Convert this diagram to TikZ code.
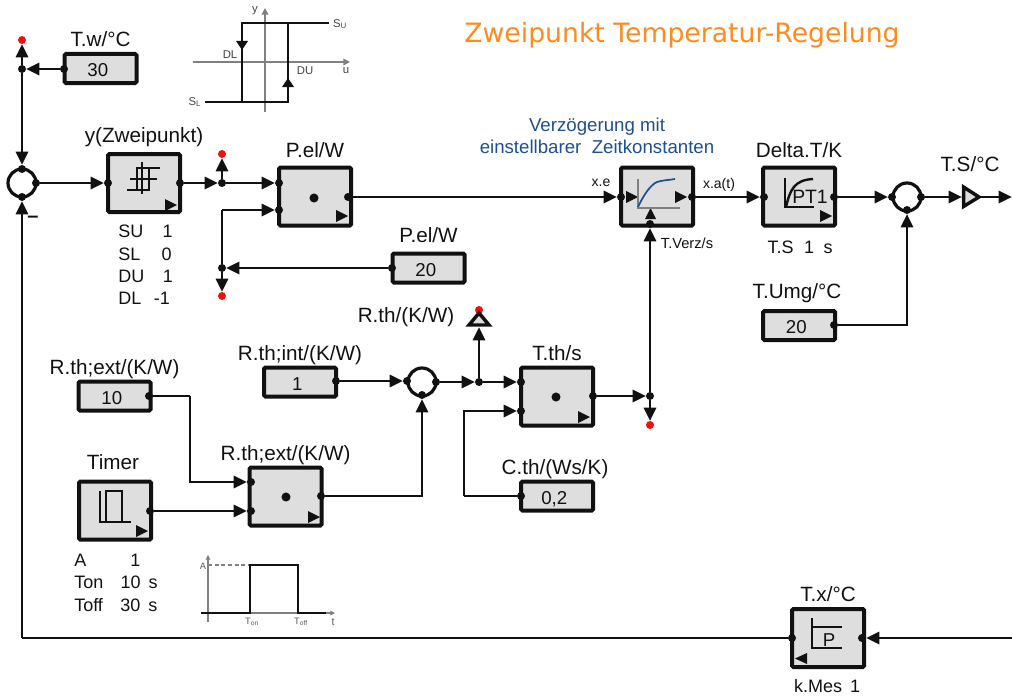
\documentclass[tikz,border=0pt]{standalone}
\usepackage{fontspec}
\setmainfont{Liberation Sans}
\newfontfamily\titlefont{DejaVu Sans}
\usetikzlibrary{arrows.meta,positioning,calc}
\definecolor{rgInk}{HTML}{111111}
\definecolor{rgFill}{HTML}{DEDEDE}
\definecolor{rgGrey}{HTML}{808080}
\definecolor{rgRed}{HTML}{F01010}
\definecolor{rgBlue}{HTML}{1F4F8F}
\definecolor{rgOrange}{HTML}{FF8A1E}
\tikzset{
  blockbox/.style={draw=rgInk, fill=rgFill, line width=3pt, rounded corners=1pt, minimum width=54pt, minimum height=43.5pt, inner sep=0pt},
  constbox/.style={blockbox, minimum height=21.75pt, font=\fontsize{14}{16}\selectfont, text=rgInk, text height=13pt, text depth=0.8pt, execute at end node={\kern4pt}},
  sumnode/.style={circle, draw=rgInk, fill=white, line width=2.4pt, minimum size=21pt, inner sep=0pt},
  pindot/.style={circle, fill=rgInk, minimum size=6pt, inner sep=0pt, outer sep=0pt},
  reddot/.style={circle, fill=rgRed, minimum size=6pt, inner sep=0pt, outer sep=0pt},
  toplbl/.style={font=\fontsize{15.5}{17}\selectfont, text=rgInk, inner sep=0pt, text height=11.2pt, text depth=3.4pt},
  parlbl/.style={font=\fontsize{13.5}{16.7}\selectfont, text=rgInk, inner sep=0pt, align=left},
  pinlbl/.style={font=\fontsize{10.5}{12}\selectfont, text=rgInk, inner sep=0pt},
  tinylbl/.style={font=\fontsize{8.5}{10}\selectfont, text=rgInk!80, inner sep=0pt},
  wire/.style={line width=2.2pt, draw=rgInk},
  arr/.style={wire, -{Triangle[length=10pt,width=9pt]}},
  thinarr/.style={line width=1pt, draw=rgGrey},
  icon/.style={line width=1.8pt, draw=rgInk},
  plotline/.style={line width=2pt, draw=rgInk},
}
\begin{document}
\begin{tikzpicture}[x=0.75pt, y=-0.75pt]
  \useasboundingbox (0,0) rectangle (1012,699);
  % blocks
  \node[constbox] (tw) at (100.5,68.5) {30};
  \node[blockbox] (ybox) at (144,183) {};
  \node[blockbox] (pel) at (315,196.5) {};
  \node[constbox] (pelc) at (428.5,268) {20};
  \node[blockbox] (verz) at (657,196.5) {};
  \node[blockbox] (delta) at (799,196.5) {};
  \node[constbox] (umg) at (799,325.5) {20};
  \node[constbox] (rint) at (300,382) {1};
  \node[constbox] (rext) at (114.5,396) {10};
  \node[blockbox] (timer) at (115,510.5) {};
  \node[blockbox] (mult) at (285.5,496.5) {};
  \node[blockbox] (tth) at (557,396.5) {};
  \node[constbox] (cth) at (557,496) {0,2};
  \node[blockbox] (tx) at (828,638) {};
  \node[sumnode] (suma) at (22,183) {};
  \node[sumnode] (sumb) at (907,197) {};
  \node[sumnode] (sumc) at (422,382) {};
  % block titles
  \node[toplbl, above=0.5pt of tw] (twl) {T.w/°C};
  \node[toplbl, above=3.5pt of ybox] (yboxl) {y(Zweipunkt)};
  \node[toplbl, above=2.7pt of pel] (pell) {P.el/W};
  \node[toplbl, above=3.5pt of pelc] (pelcl) {P.el/W};
  \node[toplbl, above=2.7pt of delta] (deltal) {Delta.T/K};
  \node[toplbl, above=4pt of umg, xshift=-1.5pt] (umgl) {T.Umg/°C};
  \node[toplbl, above=0.5pt of rint] (rintl) {R.th;int/(K/W)};
  \node[toplbl, above=0pt of rext] (rextl) {R.th;ext/(K/W)};
  \node[toplbl, above=4pt of timer, xshift=-1.5pt] (timerl) {Timer};
  \node[toplbl, above=0.5pt of mult] (multl) {R.th;ext/(K/W)};
  \node[toplbl, above=0.5pt of tth] (tthl) {T.th/s};
  \node[toplbl, above=0pt of cth, xshift=-1.5pt] (cthl) {C.th/(Ws/K)};
  \node[toplbl, above=0.5pt of tx] (txl) {T.x/°C};
  \node[toplbl] (tsl) at (970,166) {T.S/°C};
  \node[toplbl] (rthl) at (406,317) {R.th/(K/W)};
  % pins and junctions
  \foreach \n/\px/\py in {twp/64/69, ja/22/69, sat/22/169, sab/22/197, sae/36/183,
      yw/108/183, ye/180/183, jb/222/183, pela/279/183, pelb/279/210, pele/348/197,
      jc/222/268, pelcp/392/268, verzw/621/197, verze/692/197, verzs/650/224,
      deltaw/764/197, deltae/834/197, sbw/892/197, sbe/921/197, sbs/907/210, umgp/834/325,
      rintp/336/381, scw/407/381, sce/436/382, scs/422/395, jd/479/382,
      ttha/521/382, tthb/521/411, tthe/593/396, je/650/396, cthp/521/496,
      rextp/149/396, multa/251/482, multb/251/511, multe/321/496, timerp/150/511,
      txw/792/638, txe/862/638}
    \node[pindot] (\n) at (\px,\py) {};
  \foreach \n/\px/\py in {ra/22/40, rb/222/154, rc/222/296, rd/479/310, re/650/425}
    \node[reddot] (\n) at (\px,\py) {};
  % triangles on the outputs
  \coordinate (tsin) at (962,197);
  \coordinate (tsout) at (981,197);
  \coordinate (rthin) at (479,327);
  \coordinate (outr) at (1012,197);
  \coordinate (inr) at (1012,638);
  \coordinate (bendr) at (190,396);
  \coordinate (bendc) at (464,496);
  \coordinate (bendp) at (222,210);
  \coordinate (bendm) at (22,638);
  % connectors
  \foreach \u/\v in {twp/ja, ja/ra, ja/sat, sae/yw, ye/jb, jb/pela, jb/rb, pelcp/jc, jc/rc,
      pele/verzw, verze/deltaw, deltae/sbw, sbe/tsin, tsout/outr, rintp/scw,
      sce/jd, jd/ttha, jd/rthin, tthe/je, je/re, je/verzs, timerp/multb, inr/txe}
    \draw[arr] (\u) -- (\v);
  \draw[arr] (umgp) -| (sbs);
  \draw[arr] (multe) -| (scs);
  \draw[wire] (jc) -- (bendp);
  \draw[arr] (bendp) -- (pelb);
  \draw[wire] (cthp) -- (bendc);
  \draw[arr] (bendc) |- (tthb);
  \draw[wire] (rextp) -- (bendr);
  \draw[arr] (bendr) |- (multa);
  \draw[wire] (txw) -- (bendm);
  \draw[arr] (bendm) -- (sab);
  \node[font=\bfseries\fontsize{15}{15}\selectfont, text=rgInk, inner sep=0pt] (minus) at (33,219) {–};
  % output triangles
  \fill[rgFill, draw=rgInk, line width=2.6pt, line join=miter] (963.5,187) -- (979,197) -- (963.5,206.5) -- cycle;
  \fill[rgFill, draw=rgInk, line width=2.6pt, line join=miter] (479,313) -- (489,325) -- (469,325) -- cycle;
  % small run triangles in the blocks
  \foreach \cx/\cy in {165/199, 336/210, 578/411, 820/210, 136/525, 308/511}
    \fill[rgInk] (\cx,\cy) -- ++(12,6) -- ++(-12,6) -- cycle;
  \foreach \cx/\cy in {626/191, 675/191}
    \fill[rgInk] (\cx,\cy) -- ++(12,6) -- ++(-12,6) -- cycle;
  \fill[rgInk] (645,219) -- ++(5.5,-11) -- ++(5.5,11) -- cycle;
  \fill[rgInk] (807,653) -- ++(-12,5.5) -- ++(12,5.5) -- cycle;
  \foreach \cx/\cy in {314/198, 556/397, 286/497}
    \fill[rgInk] (\cx,\cy) circle (3.4pt);
  % block icons
  \draw[icon] (127,190) -- (149,190) -- (149,168) -- (160,168);
  \draw[icon] (160,168) -- (137,168) -- (137,190);
  \draw[line width=0.9pt, rgInk] (142,162) -- (142,194) (130,179) -- (157,179);
  \draw[line width=1pt, rgGrey] (638,179) -- (638,208) -- (680,208);
  \draw[line width=1.3pt, rgBlue] (638,207) .. controls (645,192) and (652,184) .. (657,182) .. controls (663,180) and (670,180) .. (675,179);
  \draw[icon] (785,178) -- (785,207) -- (814,207);
  \draw[icon] (786,207) .. controls (790,190) and (794,180) .. (813,179);
  \node[font=\fontsize{14.5}{16}\selectfont, text=rgInk, inner sep=0pt] (ptone) at (810,197) {PT1};
  \draw[icon] (100,491) -- (100,522) -- (131,522);
  \draw[icon] (106,522) -- (106,491) -- (122,491) -- (122,522);
  \draw[icon, line width=1.3pt] (812,618) -- (812,648) -- (842,648) (812,627) -- (842,627);
  \node[font=\fontsize{14}{16}\selectfont, text=rgInk, inner sep=0pt] (pp) at (829,640) {P};
  % parameters
  \node[parlbl, anchor=north west] (ypar) at (118,225) {SU\hspace{14.5pt}1\\SL\hspace{16pt}0\\DU\hspace{14pt}1\\DL\hspace{9.5pt}-1};
  \node[parlbl, anchor=north west] (tpar) at (74,554) {A\hspace{33pt}1\\Ton\hspace{13pt}10\hspace{6pt}s\\Toff\hspace{13pt}30\hspace{6pt}s};
  \node[parlbl] (tspar) at (800,247) {T.S\hspace{8pt}1\hspace{7pt}s};
  \node[parlbl] (kpar) at (827,686) {k.Mes\hspace{6pt}1};
  % pin labels
  \node[pinlbl] (xe) at (601,183) {x.e};
  \node[pinlbl] (xa) at (719,185) {x.a(t)};
  \node[pinlbl, font=\fontsize{11}{12}\selectfont] (tv) at (687,243) {T.Verz/s};
  % title and note
  \node[font=\titlefont\fontsize{20}{22}\selectfont, text=rgOrange, inner sep=0pt] (title) at (682,35) {Zweipunkt Temperatur-Regelung};
  \node[font=\fontsize{14}{16.7}\selectfont, text=rgBlue, inner sep=0pt, align=center] (note) at (597,136) {Verzögerung mit\\einstellbarer\ \ Zeitkonstanten};
  % hysteresis sketch
  \draw[thinarr, -{Triangle[length=5pt,width=5pt]}, draw=rgGrey] (265,112) -- (265,8);
  \draw[thinarr, -{Triangle[length=5pt,width=5pt]}] (193,62) -- (350,62);
  \draw[plotline] (329,23) -- (242,23) -- (242,102);
  \draw[plotline] (205,102) -- (288,102) -- (288,23);
  \fill[rgInk] (236,41) -- (248,41) -- (242,50) -- cycle;
  \fill[rgInk] (282,87) -- (294,87) -- (288,78) -- cycle;
  \node[tinylbl] (hy) at (255,11) {y};
  \node[tinylbl] (hu) at (346,71) {u};
  \node[tinylbl] (hsu) at (340,24) {S\textsubscript{U}};
  \node[tinylbl] (hsl) at (195,102) {S\textsubscript{L}};
  \node[tinylbl] (hdl) at (230,55) {DL};
  \node[tinylbl] (hdu) at (305,71) {DU};
  % pulse sketch
  \draw[thinarr, -{Triangle[length=3.5pt,width=3.5pt]}] (208,622) -- (208,555);
  \draw[thinarr, -{Triangle[length=3.5pt,width=3.5pt]}] (201,613) -- (335,613);
  \draw[line width=1pt, rgGrey, densely dashed] (208,565) -- (250,565);
  \draw[line width=1.3pt, rgInk] (201,613) -- (250,613) -- (250,565) -- (298,565) -- (298,613) -- (326,613);
  \node[font=\fontsize{7}{8}\selectfont, text=rgInk!70, inner sep=0pt] (pa) at (203,566) {A};
  \node[font=\fontsize{7}{8}\selectfont, text=rgInk!70, inner sep=0pt] (pon) at (252,622) {T\textsubscript{on}};
  \node[font=\fontsize{7}{8}\selectfont, text=rgInk!70, inner sep=0pt] (poff) at (301,622) {T\textsubscript{off}};
  \node[font=\fontsize{8}{8}\selectfont, text=rgInk!70, inner sep=0pt] (pt) at (333,622) {t};
\end{tikzpicture}
\end{document}
